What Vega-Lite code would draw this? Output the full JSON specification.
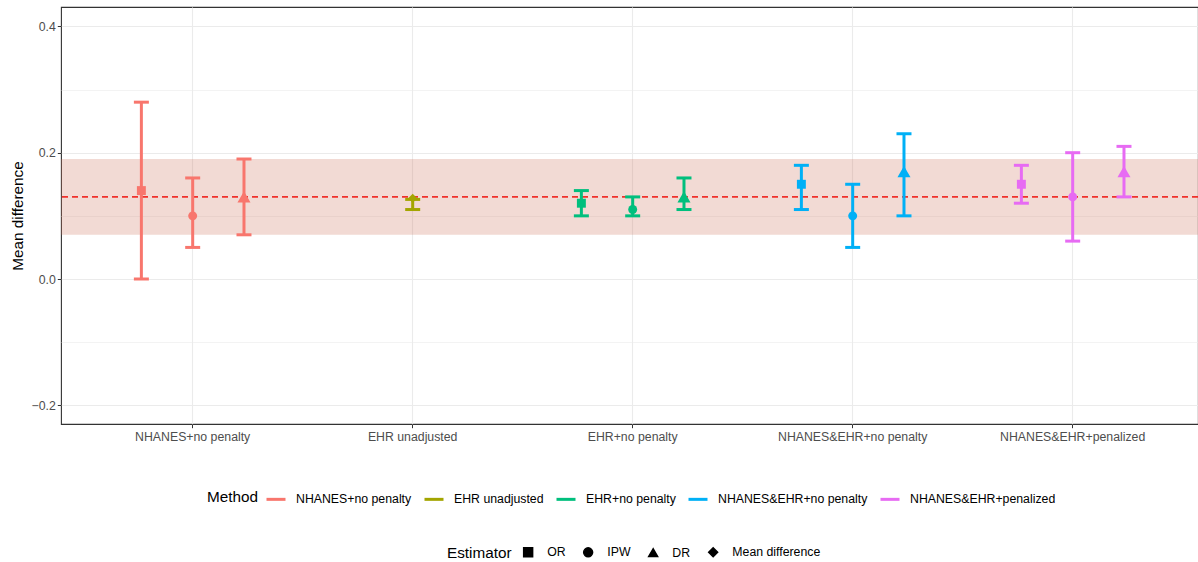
{
  "$schema": "https://vega.github.io/schema/vega-lite/v6.json",
  "width": 1137,
  "height": 417,
  "autosize": {"type": "none"},
  "padding": {"left": 61, "top": 7, "right": 0, "bottom": 138},
  "background": "white",
  "config": {
    "font": "Liberation Sans",
    "view": {"stroke": "#333333", "strokeWidth": 1.1},
    "axis": {"domain": false, "gridColor": "#EBEBEB", "labelFont": "Liberation Sans", "titleFont": "Liberation Sans"},
    "legend": {"labelFont": "Liberation Sans", "titleFont": "Liberation Sans"}
  },
  "layer": [
    {
      "data": {"values": [{"lo": 0.07, "hi": 0.19, "ref": 0.13}]},
      "mark": {"type": "rect", "fill": "#cb6b53", "opacity": 0.25},
      "encoding": {
        "y": {
          "field": "lo",
          "type": "quantitative",
          "title": "Mean difference",
          "scale": {"domain": [-0.2296, 0.4307], "nice": false, "zero": false},
          "axis": {
            "values": [-0.2, -0.1, 0, 0.1, 0.2, 0.3, 0.4],
            "labelExpr": "abs(round(datum.value*10)) % 2 == 0 ? format(datum.value, '.1f') : ''",
            "labelFontSize": 12.3,
            "labelColor": "#4D4D4D",
            "labelPadding": 2,
            "tickSize": 3.7,
            "tickColor": {"condition": {"test": "abs(round(datum.value*10)) % 2 == 1", "value": "transparent"}, "value": "#333333"},
            "gridWidth": {"condition": {"test": "abs(round(datum.value*10)) % 2 == 1", "value": 0.6}, "value": 1.1},
            "titleFontSize": 15.3,
            "titleColor": "black",
            "titleFontWeight": "normal",
            "titlePadding": 6
          }
        },
        "y2": {"field": "hi"}
      }
    },
    {
      "data": {"values": [{"lo": 0.07, "hi": 0.19, "ref": 0.13}]},
      "mark": {"type": "rule", "color": "#F0312B", "strokeDash": [6, 4], "strokeWidth": 1.6},
      "encoding": {
        "y": {"field": "ref", "type": "quantitative", "title": "Mean difference"}
      }
    },
    {
      "data": {
        "values": [
          {"Method": "NHANES+no penalty", "Estimator": "OR", "est": 0.14, "lo": 0.0, "hi": 0.28},
          {"Method": "NHANES+no penalty", "Estimator": "IPW", "est": 0.10, "lo": 0.05, "hi": 0.16},
          {"Method": "NHANES+no penalty", "Estimator": "DR", "est": 0.13, "lo": 0.07, "hi": 0.19},
          {"Method": "EHR unadjusted", "Estimator": "Mean difference", "est": 0.128, "lo": 0.11, "hi": 0.126},
          {"Method": "EHR+no penalty", "Estimator": "OR", "est": 0.12, "lo": 0.10, "hi": 0.14},
          {"Method": "EHR+no penalty", "Estimator": "IPW", "est": 0.11, "lo": 0.10, "hi": 0.13},
          {"Method": "EHR+no penalty", "Estimator": "DR", "est": 0.13, "lo": 0.11, "hi": 0.16},
          {"Method": "NHANES&EHR+no penalty", "Estimator": "OR", "est": 0.15, "lo": 0.11, "hi": 0.18},
          {"Method": "NHANES&EHR+no penalty", "Estimator": "IPW", "est": 0.10, "lo": 0.05, "hi": 0.15},
          {"Method": "NHANES&EHR+no penalty", "Estimator": "DR", "est": 0.17, "lo": 0.10, "hi": 0.23},
          {"Method": "NHANES&EHR+penalized", "Estimator": "OR", "est": 0.15, "lo": 0.12, "hi": 0.18},
          {"Method": "NHANES&EHR+penalized", "Estimator": "IPW", "est": 0.13, "lo": 0.06, "hi": 0.20},
          {"Method": "NHANES&EHR+penalized", "Estimator": "DR", "est": 0.17, "lo": 0.13, "hi": 0.21}
        ]
      },
      "transform": [
        {"calculate": "datum.Estimator === 'OR' ? 'a' : (datum.Estimator === 'DR' ? 'c' : 'b')", "as": "slot"}
      ],
      "encoding": {
        "x": {
          "field": "Method",
          "type": "nominal",
          "sort": ["NHANES+no penalty", "EHR unadjusted", "EHR+no penalty", "NHANES&EHR+no penalty", "NHANES&EHR+penalized"],
          "title": null,
          "scale": {"paddingInner": 0, "paddingOuter": 0.0841, "align": 0.586},
          "axis": {
            "labelAngle": 0,
            "labelFontSize": 12.3,
            "labelColor": "#4D4D4D",
            "labelPadding": 3,
            "tickSize": 3.7,
            "tickColor": "#333333",
            "grid": true,
            "gridColor": "#EBEBEB",
            "gridWidth": 1.1,
            "bandPosition": 0.5
          }
        },
        "xOffset": {
          "field": "slot",
          "type": "nominal",
          "scale": {"domain": ["a", "b", "c"], "paddingInner": 0, "paddingOuter": 0.644}
        },
        "color": {
          "field": "Method",
          "type": "nominal",
          "scale": {
            "domain": ["NHANES+no penalty", "EHR unadjusted", "EHR+no penalty", "NHANES&EHR+no penalty", "NHANES&EHR+penalized"],
            "range": ["#F8766D", "#A3A500", "#00BF7D", "#00B0F6", "#E76BF3"]
          },
          "legend": {
            "title": "Method",
            "orient": "none",
            "legendX": 146,
            "legendY": 481,
            "direction": "horizontal",
            "titleOrient": "left",
            "titleFontSize": 15.3,
            "titleFontWeight": "normal",
            "titleColor": "black",
            "titlePadding": 6,
            "labelFontSize": 12.3,
            "labelColor": "black",
            "labelOffset": 9,
            "columnPadding": 6,
            "symbolType": "stroke",
            "symbolSize": 361,
            "symbolStrokeWidth": 3
          }
        }
      },
      "layer": [
        {
          "mark": {"type": "rule", "strokeWidth": 3, "opacity": 1},
          "encoding": {
            "y": {"field": "lo", "type": "quantitative", "title": "Mean difference"},
            "y2": {"field": "hi"}
          }
        },
        {
          "mark": {"type": "tick", "thickness": 3, "size": 15, "opacity": 1},
          "encoding": {"y": {"field": "lo", "type": "quantitative", "title": "Mean difference"}}
        },
        {
          "mark": {"type": "tick", "thickness": 3, "size": 15, "opacity": 1},
          "encoding": {"y": {"field": "hi", "type": "quantitative", "title": "Mean difference"}}
        },
        {
          "mark": {"type": "point", "filled": true, "opacity": 1},
          "encoding": {
            "y": {"field": "est", "type": "quantitative", "title": "Mean difference"},
            "size": {"condition": {"test": "datum.Estimator === 'DR'", "value": 170}, "value": 80},
            "shape": {
              "field": "Estimator",
              "type": "nominal",
              "scale": {
                "domain": ["OR", "IPW", "DR", "Mean difference"],
                "range": ["square", "circle", "triangle-up", "diamond"]
              },
              "legend": {
                "title": "Estimator",
                "orient": "none",
                "legendX": 386,
                "legendY": 539,
                "direction": "horizontal",
                "titleOrient": "left",
                "titleFontSize": 15.3,
                "titleFontWeight": "normal",
                "titleColor": "black",
                "titlePadding": 10,
                "labelFontSize": 12.3,
                "labelColor": "black",
                "labelOffset": 13,
                "columnPadding": 14,
                "symbolSize": 80,
                "symbolFillColor": "black",
                "symbolStrokeColor": "black",
                "symbolOpacity": 1
              }
            }
          }
        }
      ]
    }
  ]
}
